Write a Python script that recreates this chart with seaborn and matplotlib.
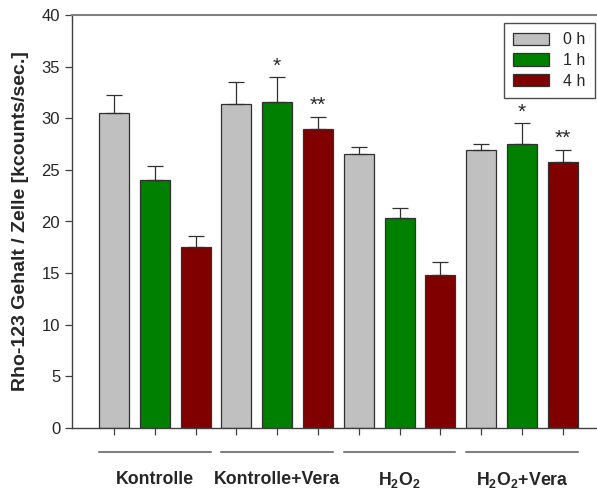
import pandas as pd
import matplotlib.pyplot as plt
import seaborn as sns

# data
groups = ["Kontrolle", "Kontrolle+Vera", "H2O2", "H2O2+Vera"]
group_labels = ["Kontrolle", "Kontrolle+Vera", r"$\mathbf{H_2O_2}$", r"$\mathbf{H_2O_2}$+Vera"]
times = ["0 h", "1 h", "4 h"]
means_0h = [30.5, 31.4, 26.5, 26.9]
means_1h = [24.0, 31.6, 20.3, 27.5]
means_4h = [17.5, 29.0, 14.8, 25.8]
err_0h = [1.8, 2.1, 0.75, 0.6]
err_1h = [1.4, 2.35, 1.05, 2.0]
err_4h = [1.05, 1.15, 1.3, 1.15]
stars_1h = ["", "*", "", "*"]
stars_4h = ["", "**", "", "**"]
colors = {"0 h": "#c0c0c0", "1 h": "#008000", "4 h": "#800000"}

rows = []
for i, g in enumerate(groups):
    for t, m, e, s in zip(times,
                          [means_0h[i], means_1h[i], means_4h[i]],
                          [err_0h[i], err_1h[i], err_4h[i]],
                          ["", stars_1h[i], stars_4h[i]]):
        rows.append({"bar": g + " " + t, "group": g, "time": t, "value": m, "err": e, "star": s})
df = pd.DataFrame(rows)

sns.set_style("ticks")
plt.rcParams["font.family"] = ["Liberation Sans", "DejaVu Sans"]
plt.rcParams["mathtext.fontset"] = "custom"
plt.rcParams["mathtext.bf"] = "Liberation Sans:bold"
plt.rcParams["mathtext.rm"] = "Liberation Sans"

fig = plt.figure(figsize=(5.97, 4.94), dpi=100)
ax = fig.add_axes([72 / 597, 1 - 428 / 494, 525 / 597, 413 / 494])

sns.barplot(data=df, x="bar", y="value", hue="time", palette=colors, dodge=False,
            width=0.735, saturation=1, edgecolor="#303030", linewidth=0.9,
            errorbar=None, legend=True, ax=ax)

# upward-only error bars with caps
for i, r in df.iterrows():
    ax.errorbar(i, r["value"], yerr=[[0], [r["err"]]], fmt="none", ecolor="#303030",
                elinewidth=0.9, capsize=6, capthick=0.9, zorder=3)
    if r["star"]:
        ax.text(i, r["value"] + r["err"] + 0.15, r["star"], ha="center", va="bottom",
                fontsize=15)

ax.set_ylim(0, 40)
ax.set_xlim(-1.03, 11.84)
ax.set_yticks(range(0, 41, 5))
ax.set_xticks(range(len(df)))
ax.set_xticklabels([])
ax.set_xlabel("")
ax.set_ylabel("Rho-123 Gehalt / Zelle [kcounts/sec.]", fontsize=14, fontweight="bold", labelpad=9)
ax.tick_params(axis="y", labelsize=12, length=5, width=0.9, color="#404040")
ax.tick_params(axis="x", length=5, width=0.9, color="#404040")
for side in ["left", "bottom"]:
    ax.spines[side].set_color("#404040")
    ax.spines[side].set_linewidth(1)
ax.spines["top"].set_color("#808080")
ax.spines["top"].set_linewidth(1.5)
ax.spines["right"].set_visible(False)

# group lines and labels under the axis
for k, lab in enumerate(group_labels):
    x0, x1 = 3 * k - 0.37, 3 * k + 2 + 0.37
    ax.plot([x0, x1], [-2.3, -2.3], color="#808080", lw=1.5, clip_on=False)
    ax.text(3 * k + 1, -5.0, lab, ha="center", va="center", fontsize=12.8,
            fontweight="bold")

leg = ax.legend(loc="upper right", bbox_to_anchor=(0.996, 0.981), borderaxespad=0,
                frameon=True, fancybox=False, edgecolor="#202020", fontsize=11.5,
                handlelength=2.2, handleheight=0.8, handletextpad=0.9,
                borderpad=0.6, labelspacing=0.35)
leg.get_frame().set_linewidth(1)

fig.savefig("out.png", dpi=100)
